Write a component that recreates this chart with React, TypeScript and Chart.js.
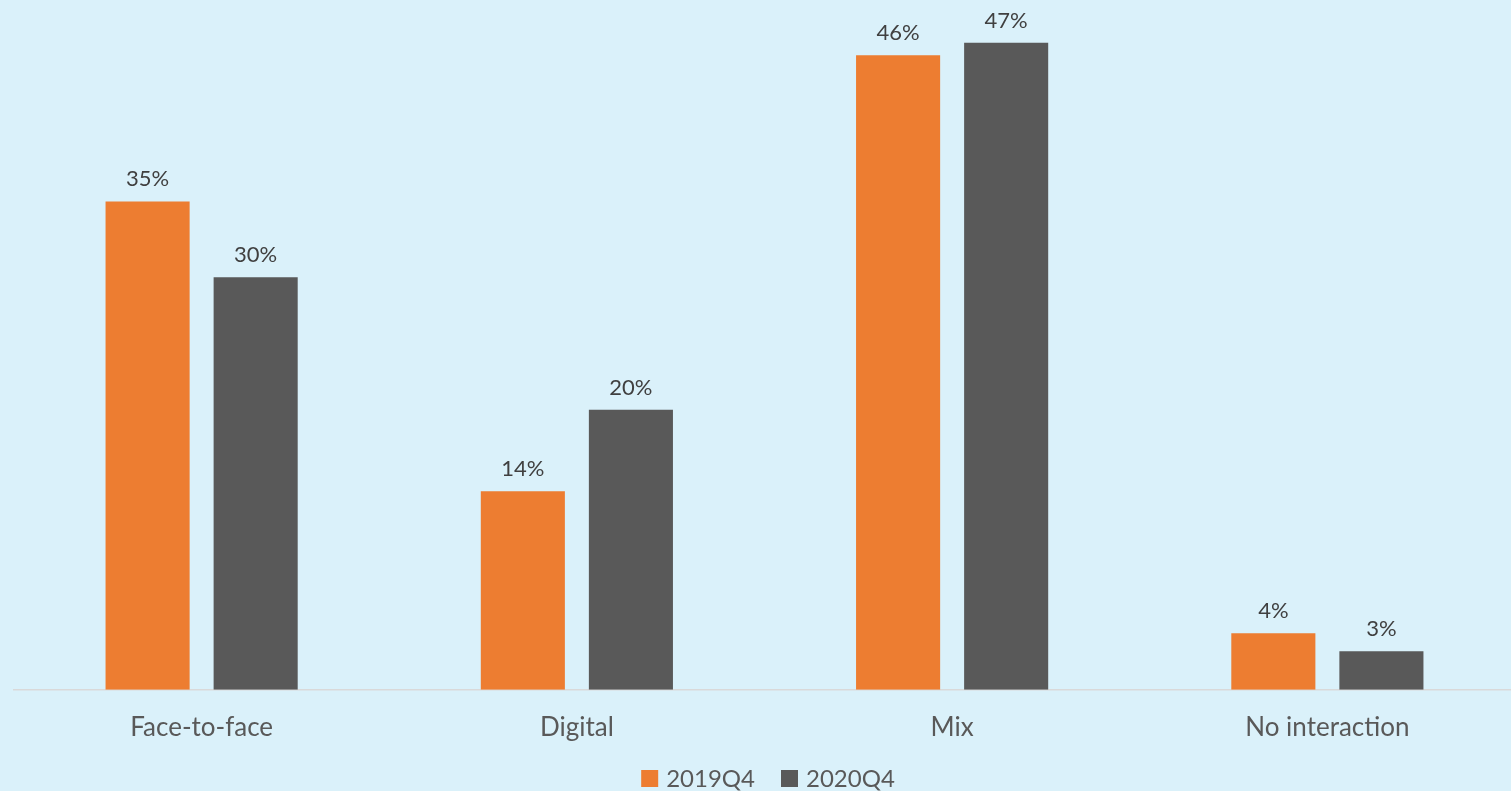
import React, { useEffect, useRef } from "react";
import { Chart, registerables } from "chart.js";

Chart.register(...registerables);

const categories = ["Face-to-face", "Digital", "Mix", "No interaction"];
const series2019 = [35.4, 14.4, 46.0, 4.1];
const series2020 = [29.9, 20.3, 46.9, 2.8];
const seriesNames = ["2019Q4", "2020Q4"];
const seriesColors = ["#ED7D31", "#595959"];
const yTicks = [0, 50];

const FONT = "Lato, 'Open Sans', sans-serif";

const valueLabels = {
  id: "valueLabels",
  afterDatasetsDraw(chart: any) {
    const ctx = chart.ctx;
    ctx.save();
    ctx.font = `22px ${FONT}`;
    ctx.fillStyle = "#404040";
    ctx.textAlign = "center";
    ctx.textBaseline = "alphabetic";
    chart.data.datasets.forEach((ds: any, i: number) => {
      const meta = chart.getDatasetMeta(i);
      meta.data.forEach((bar: any, j: number) => {
        const v = ds.data[j];
        ctx.fillText(Math.round(v) + "%", bar.x, bar.y - 15);
      });
    });
    ctx.restore();
  },
};

const customLegend = {
  id: "customLegend",
  afterDraw(chart: any) {
    const ctx = chart.ctx;
    ctx.save();
    ctx.font = `24px ${FONT}`;
    ctx.textBaseline = "alphabetic";
    ctx.textAlign = "left";
    const box = 17;
    const gap = 8;
    const itemGap = 26;
    const items = chart.data.datasets.map((ds: any) => ({
      label: ds.label,
      color: ds.backgroundColor,
      w: box + gap + ctx.measureText(ds.label).width,
    }));
    const total =
      items.reduce((s: number, it: any) => s + it.w, 0) +
      itemGap * (items.length - 1);
    let x = 768 - total / 2;
    const baseY = 787;
    items.forEach((it: any) => {
      ctx.fillStyle = it.color;
      ctx.fillRect(x, baseY - box, box, box);
      ctx.fillStyle = "#595959";
      ctx.fillText(it.label, x + box + gap, baseY);
      x += it.w + itemGap;
    });
    ctx.restore();
  },
};

export default function App() {
  const ref = useRef<HTMLCanvasElement>(null);
  useEffect(() => {
    document.body.style.margin = "0";
    const chart = new Chart(ref.current!, {
      type: "bar",
      data: {
        labels: categories,
        datasets: [
          {
            label: seriesNames[0],
            data: series2019,
            backgroundColor: seriesColors[0],
            categoryPercentage: 0.576,
            barPercentage: 0.778,
          },
          {
            label: seriesNames[1],
            data: series2020,
            backgroundColor: seriesColors[1],
            categoryPercentage: 0.576,
            barPercentage: 0.778,
          },
        ],
      },
      options: {
        animation: false,
        responsive: false,
        maintainAspectRatio: false,
        layout: { padding: { left: 14, top: 0, right: 0, bottom: 34 } },
        scales: {
          x: {
            grid: { display: false },
            border: { display: true, color: "#D9D9D9", width: 1.5 },
            ticks: {
              color: "#595959",
              font: { family: FONT, size: 26 },
              padding: 14,
            },
          },
          y: {
            display: false,
            min: yTicks[0],
            max: yTicks[1],
          },
        },
        plugins: {
          legend: { display: false },
          tooltip: { enabled: false },
        },
      },
      plugins: [valueLabels, customLegend],
    });
    return () => chart.destroy();
  }, []);
  return (
    <div
      style={{
        position: "absolute",
        left: 0,
        top: 0,
        width: 1511,
        height: 791,
        overflow: "hidden",
        background: "#DAF1FA",
      }}
    >
      <canvas ref={ref} width={1515} height={791} style={{ display: "block" }} />
    </div>
  );
}
